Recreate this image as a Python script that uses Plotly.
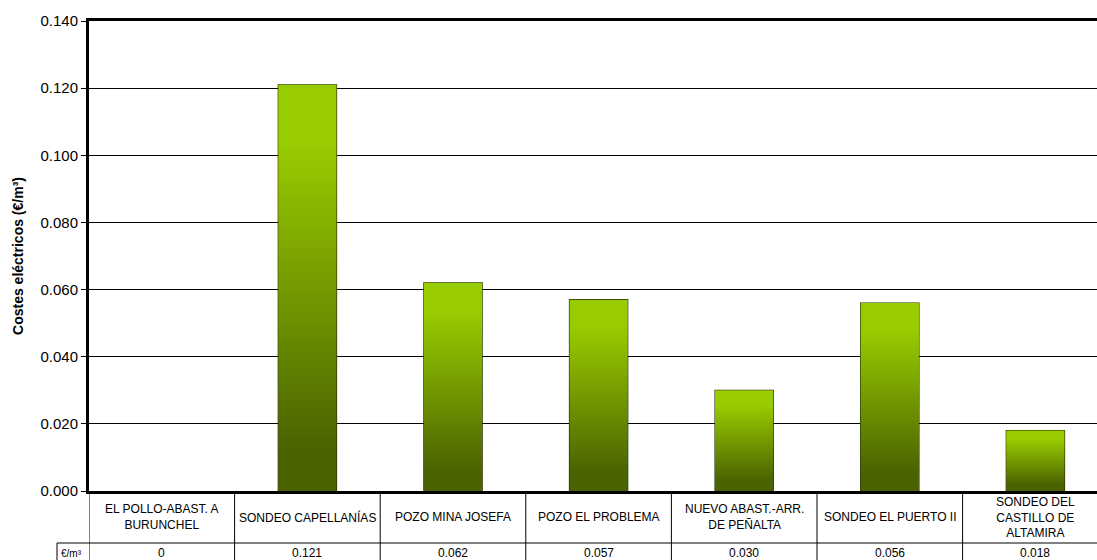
import plotly.graph_objects as go

categories = [
    "EL POLLO-ABAST. A<br>BURUNCHEL",
    "SONDEO CAPELLANÍAS",
    "POZO MINA JOSEFA",
    "POZO EL PROBLEMA",
    "NUEVO ABAST.-ARR.<br>DE PEÑALTA",
    "SONDEO EL PUERTO II",
    "SONDEO DEL<br>CASTILLO DE<br>ALTAMIRA",
]
values = [0.0, 0.121, 0.062, 0.057, 0.030, 0.056, 0.018]
value_labels = ["0", "0.121", "0.062", "0.057", "0.030", "0.056", "0.018"]
unit_label = "€/m³"
y_title = "Costes eléctricos (€/m³)"

FONT = "Liberation Sans, Arial, sans-serif"
BAR_W = 0.40
TOP_C = "#99CC00"
BOT_C = "#4A6300"

W, H = 1097, 560
ML, MT, MB = 89, 21, 69
plot_h = H - MT - MB
plot_w = W - ML
cat_px = 145.6
x_span = plot_w / cat_px

def py(pix):
    # paper y coordinate for a pixel row below the plot
    return -(pix - (H - MB)) / plot_h

fig = go.Figure()

# gradient-filled bars (one trace each so each bar has its own gradient)
for i, v in enumerate(values):
    if v <= 0:
        continue
    fig.add_trace(go.Scatter(
        x=[i - BAR_W / 2, i + BAR_W / 2, i + BAR_W / 2, i - BAR_W / 2, i - BAR_W / 2],
        y=[0, 0, v, v, 0],
        mode="lines", fill="toself",
        line=dict(width=0, color="rgba(0,0,0,0)"),
        fillgradient=dict(type="vertical",
                          colorscale=[[0, BOT_C], [0.1, BOT_C], [0.86, TOP_C], [1, TOP_C]]),
        hoverinfo="skip", showlegend=False,
    ))

# outline bars (only non-zero ones are visible in the reference)
nz_x = [i for i, v in enumerate(values) if v > 0]
nz_y = [v for v in values if v > 0]
fig.add_trace(go.Bar(
    x=nz_x, y=nz_y, width=BAR_W,
    marker=dict(color="rgba(0,0,0,0)", line=dict(color="#1E2800", width=1.2)),
    showlegend=False, hoverinfo="skip",
))

shapes = []
n = len(categories)
# vertical table dividers
for k in range(n + 1):
    shapes.append(dict(type="line", xref="x", yref="paper", x0=k - 0.5, x1=k - 0.5,
                       y0=0, y1=py(575), line=dict(color="black", width=1)))
# horizontal line between rows
x_unit_left = (57 - ML) / plot_w
shapes.append(dict(type="line", xref="paper", yref="paper", x0=x_unit_left, x1=1.0,
                   y0=py(543), y1=py(543), line=dict(color="black", width=1)))
# unit cell left border
shapes.append(dict(type="line", xref="paper", yref="paper", x0=x_unit_left, x1=x_unit_left,
                   y0=py(543), y1=py(575), line=dict(color="black", width=1)))

annotations = []
for i, c in enumerate(categories):
    annotations.append(dict(xref="x", yref="paper", x=i, y=py(517), text=c,
                            showarrow=False, xanchor="center", yanchor="middle",
                            font=dict(family=FONT, size=12, color="black")))
    annotations.append(dict(xref="x", yref="paper", x=i, y=py(553), text=value_labels[i],
                            showarrow=False, xanchor="center", yanchor="middle",
                            font=dict(family=FONT, size=12, color="black")))
annotations.append(dict(xref="paper", yref="paper", x=(59 - ML) / plot_w, y=py(553),
                        text=unit_label, showarrow=False, xanchor="left", yanchor="middle",
                        font=dict(family=FONT, size=10, color="black")))

fig.update_layout(
    width=W, height=H,
    margin=dict(l=ML, r=0, t=MT, b=MB, pad=0),
    paper_bgcolor="white", plot_bgcolor="white",
    font=dict(family=FONT, color="black"),
    xaxis=dict(range=[-0.5, -0.5 + x_span], showticklabels=False, ticks="",
               showgrid=False, zeroline=False, showline=True, mirror=True,
               linecolor="black", linewidth=3, fixedrange=True),
    yaxis=dict(range=[0, 0.14], dtick=0.02, tickformat=".3f",
               ticks="outside", ticklen=5, tickcolor="black", tickwidth=1,
               showgrid=True, gridcolor="black", gridwidth=1, zeroline=False,
               showline=True, linecolor="black", linewidth=3,
               tickfont=dict(family=FONT, size=15, color="black"),
               title=dict(text=y_title, standoff=14,
                          font=dict(family=FONT, size=14, color="black", weight="bold"))),
    shapes=shapes, annotations=annotations,
    bargap=0.6,
)

fig.write_html("out.html")
